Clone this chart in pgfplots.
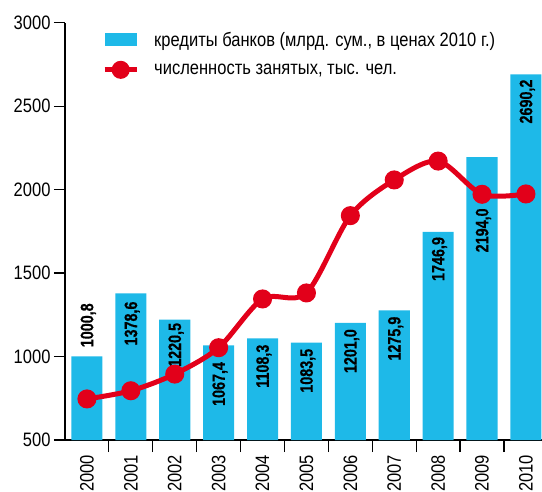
\documentclass[border=0pt]{standalone}
\usepackage{fontspec}
\setmainfont{Liberation Sans}[FakeStretch=0.85]
\newfontfamily\barfont{Liberation Sans}[FakeStretch=0.8, BoldFeatures={FakeBold=0.5}]
\usepackage{pgfplots}
\pgfplotsset{compat=1.18}
\definecolor{barcyan}{RGB}{30,185,232}
\definecolor{linered}{RGB}{226,0,26}
\begin{document}
\begin{tikzpicture}[barlab/.style={rotate=90, font=\barfont\bfseries\fontsize{18}{18}\selectfont, inner sep=0pt, text depth=0pt}]
\begin{axis}[name=ax,
  scale only axis, width=477bp, height=417.3bp,
  xmin=-0.5, xmax=10.366, ymin=500, ymax=3000,
  axis x line*=bottom, axis y line*=left,
  axis line style={-, line width=1.2bp, black},
  tick align=outside,
  major tick length=11bp, minor tick length=12bp,
  tick style={black, line width=1.2bp},
  major x tick style={draw=none},
  xtick={0,...,10},
  xticklabels={2000,2001,2002,2003,2004,2005,2006,2007,2008,2009,2010},
  minor xtick={0.5,1.5,...,9.5},
  ytick={500,1000,...,3000},
  /pgf/number format/assume math mode=true,
  /pgf/number format/1000 sep={},
  tick label style={font=\fontsize{19.5}{20}\selectfont},
  xticklabel style={rotate=90, anchor=east},
  xticklabel shift=0.5bp,
  legend style={at={(axis cs:0.343,2945)}, anchor=north west, draw=none, fill=none,
    inner sep=0pt, row sep=13bp, column sep=15bp,
    font=\fontsize{19.5}{19.5}\selectfont, nodes={inner sep=0pt}},
  legend cell align=left,
]
\addplot[ybar, bar width=0.708, fill=barcyan, draw=none,
  legend image code/.code={\fill[barcyan] (0bp,-6.5bp) rectangle (32bp,6.5bp);}]
  coordinates {(0,1000.8) (1,1378.6) (2,1220.5) (3,1067.4) (4,1108.3) (5,1083.5) (6,1201.0) (7,1275.9) (8,1746.9) (9,2194.0) (10,2690.2)};
\addlegendentry{кредиты банков (млрд. сум., в ценах 2010 г.)}
\node[barlab, anchor=west] at ([yshift=9bp]axis cs:0,1000.8) {1000,8};
\node[barlab, anchor=east] at ([yshift=-8bp]axis cs:1,1378.6) {1378,6};
\node[barlab, anchor=east] at ([yshift=-3bp]axis cs:2,1220.5) {1220,5};
\node[barlab, anchor=east] at ([yshift=-16.5bp]axis cs:3,1067.4) {1067,4};
\node[barlab, anchor=east] at ([yshift=-6bp]axis cs:4,1108.3) {1108,3};
\node[barlab, anchor=east] at ([yshift=-6bp]axis cs:5,1083.5) {1083,5};
\node[barlab, anchor=east] at ([yshift=-6bp]axis cs:6,1201.0) {1201,0};
\node[barlab, anchor=east] at ([yshift=-6bp]axis cs:7,1275.9) {1275,9};
\node[barlab, anchor=east] at ([yshift=-5bp]axis cs:8,1746.9) {1746,9};
\node[barlab, anchor=east] at ([yshift=-51bp]axis cs:9,2194.0) {2194,0};
\node[barlab, anchor=east] at ([yshift=-5bp]axis cs:10,2690.2) {2690,2};
\addplot[linered, line width=5bp, smooth, mark=*, mark size=7bp, mark options={fill=linered, draw=none},
  legend image code/.code={\draw[linered, line width=5bp] (0bp,0bp) -- (32bp,0bp); \fill[linered] (16bp,0bp) circle (6.5bp);}]
  coordinates {(0,746) (1,795) (2,895) (3,1053) (4,1345) (5,1381) (6,1844) (7,2058) (8,2171) (9,1972) (10,1974)};
\addlegendentry{численность занятых, тыс. чел.}
\end{axis}
\pgfresetboundingbox
\path ([xshift=-65bp,yshift=-52bp]ax.south west) rectangle ([yshift=22.7bp]ax.north east);
\end{tikzpicture}
\end{document}
